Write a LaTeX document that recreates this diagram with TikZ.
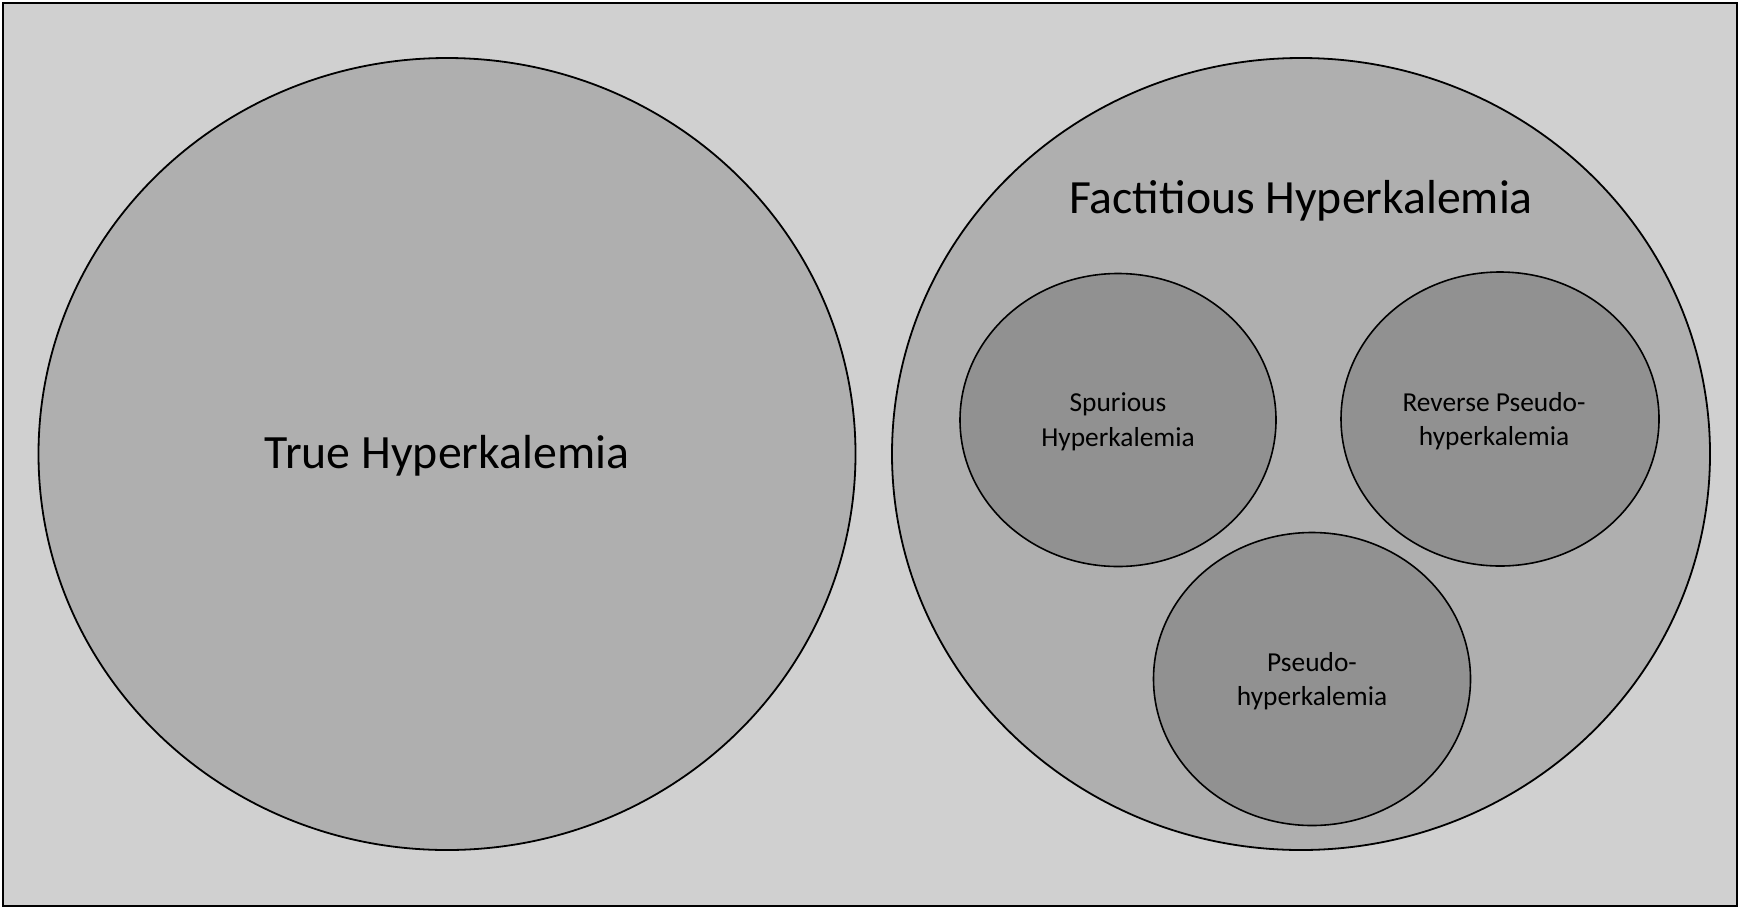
\documentclass[tikz,border=0pt]{standalone}
\usepackage{fontspec}
\setmainfont{Carlito}
\usetikzlibrary{shapes.geometric}
\definecolor{bgc}{HTML}{D0D0D0}
\definecolor{bigc}{HTML}{AFAFAF}
\definecolor{smallc}{HTML}{919191}
\tikzset{
  bigell/.style={ellipse, draw=black, line width=1.8pt, fill=bigc, inner sep=0pt},
  smallell/.style={ellipse, draw=black, line width=1.6pt, fill=smallc, inner sep=0pt, align=center, font=\fontsize{27.4}{34.5}\selectfont},
}
\begin{document}
\begin{tikzpicture}[x=1pt,y=-1pt]
\useasboundingbox (0,0) rectangle (1744,911);
\draw[line width=2.5pt, fill=bgc] (3,3) rectangle (1737,906);
\node[bigell, minimum width=817pt, minimum height=792pt] (true) at (447,454) {};
\node[font=\fontsize{47.8}{52}\selectfont] (truelabel) at (447,456) {True Hyperkalemia};
\node[bigell, minimum width=818pt, minimum height=792pt] (fact) at (1301,454) {};
\node[font=\fontsize{47.7}{52}\selectfont, anchor=base] (factlabel) at (1301,213) {Factitious Hyperkalemia};
\node[smallell, minimum width=316pt, minimum height=293pt] (spur) at (1118,420) {};
\node[align=center, font=\fontsize{27.4}{34.5}\selectfont] (spurlabel) at (1118,422) {Spurious\\Hyperkalemia};
\node[smallell, minimum width=318pt, minimum height=294pt] (rev) at (1500,419) {};
\node[align=center, font=\fontsize{27.4}{34.5}\selectfont] (revlabel) at (1494,421) {Reverse Pseudo-\\hyperkalemia};
\node[smallell, minimum width=317pt, minimum height=293pt] (pseudo) at (1312,679) {};
\node[align=center, font=\fontsize{27.4}{34.5}\selectfont] (pseudolabel) at (1312,681) {Pseudo-\\hyperkalemia};
\end{tikzpicture}
\end{document}
